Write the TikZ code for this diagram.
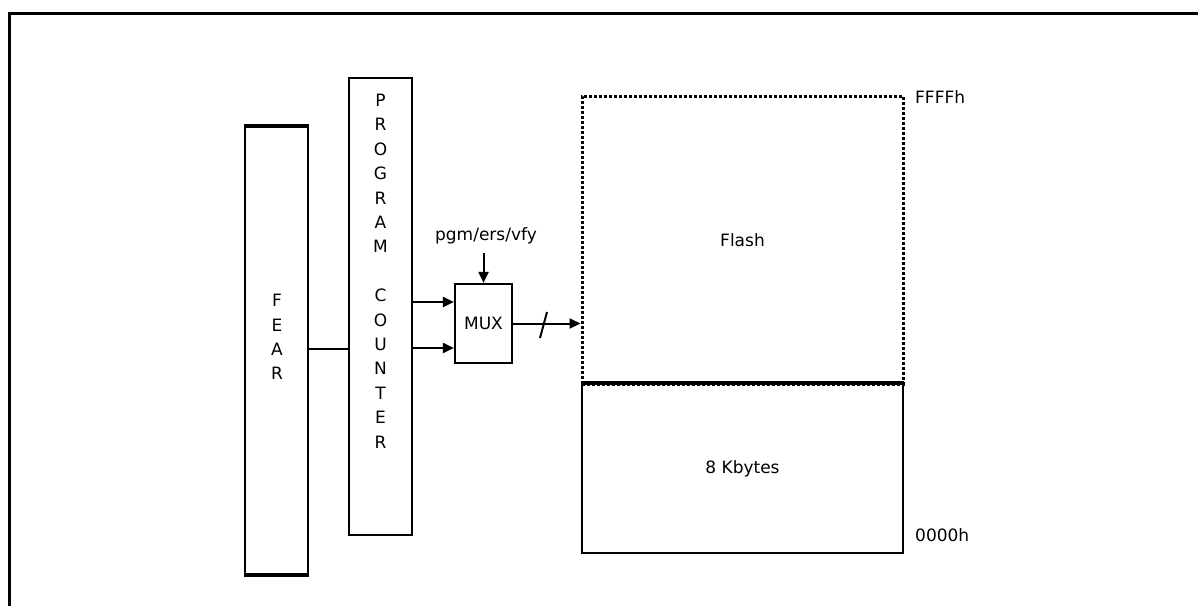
\documentclass[tikz,border=0pt]{standalone}
\usepackage{fontspec}
\setmainfont{DejaVu Sans}
\usetikzlibrary{arrows.meta}
\begin{document}
\begin{tikzpicture}[x=1pt,y=-1pt,
  every node/.style={font=\fontsize{17}{24.4}\selectfont},
  blk/.style={draw,line width=2.2pt,rectangle,inner sep=0pt},
  lbl/.style={inner sep=0pt,align=center},
  conn/.style={line width=2pt},
  arr/.style={line width=2pt,-{Triangle[length=11pt,width=10pt]}},
  dotbox/.style={draw,line width=3pt,dash pattern=on 3pt off 2pt,rectangle,inner sep=0pt}]
\useasboundingbox (0,0) rectangle (1198,605);
\draw[line width=3.2pt] (9.5,640) -- (9.5,13.5) -- (1240,13.5);
% FEAR
\node[blk,minimum width=63pt,minimum height=447pt] (fear) at (276.5,350.5) {};
\draw[line width=4.5pt] (fear.north west) -- (fear.north east);
\draw[line width=4.5pt] (fear.south west) -- (fear.south east);
\node[lbl] (feartxt) at (277,337) {F\\E\\A\\R};
% Program counter
\node[blk,minimum width=63pt,minimum height=457pt] (pc) at (380.5,306.5) {};
\node[lbl] (pctxt) at (380.5,271) {P\\R\\O\\G\\R\\A\\M\\[24.4pt]C\\O\\U\\N\\T\\E\\R};
% MUX
\node[blk,minimum width=57pt,minimum height=79pt] (mux) at (483.5,323.5) {MUX};
\node[lbl] (pgm) at (486,236) {pgm/ers/vfy};
% Memory
\node[dotbox,minimum width=321pt,minimum height=288pt] (flash) at (742.5,240) {Flash};
\node[blk,minimum width=321pt,minimum height=169pt] (kb) at (742.5,468.5) {8 Kbytes};
\draw[line width=3pt] (kb.north west) -- (kb.north east);
\node[lbl,anchor=west] (ffff) at (915,97) {FFFFh};
\node[lbl,anchor=west] (zero) at (915,535) {0000h};
% connectors
\draw[conn] (fear.east |- 0,349) -- (pc.west |- 0,349);
\coordinate (in1) at (mux.west |- 0,302);
\coordinate (in2) at (mux.west |- 0,348);
\draw[arr] (pc.east |- in1) -- (in1);
\draw[arr] (pc.east |- in2) -- (in2);
\draw[arr] (mux.north |- 0,253) -- (mux.north);
\coordinate (fin) at (flash.west |- mux.east);
\draw[arr] (mux.east) -- (fin);
\draw[line width=2pt] (540,338) -- (547,312);
\end{tikzpicture}
\end{document}
